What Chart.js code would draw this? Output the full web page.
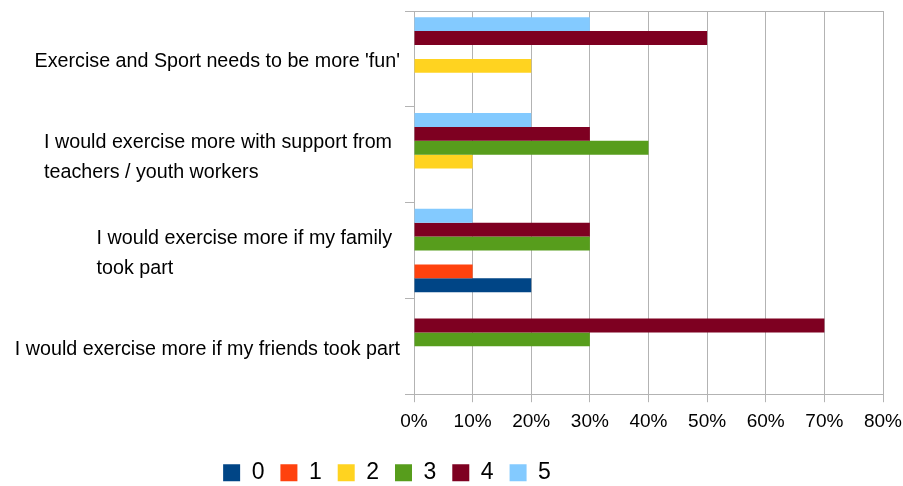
<!DOCTYPE html>
<html>
<head>
<meta charset="utf-8">
<script src="https://cdn.jsdelivr.net/npm/chart.js@4.4.0/dist/chart.umd.min.js"></script>
<style>
  html, body { margin: 0; padding: 0; background: #fff; }
  #wrap { width: 903px; height: 486px; }
</style>
</head>
<body>
<div id="wrap"><canvas id="myBars"></canvas></div>
<script>
// Survey statements, top to bottom (each entry is one label, split into its lines)
var categories = [
    ["Exercise and Sport needs to be more 'fun'"],
    ['I would exercise more with support from', 'teachers / youth workers'],
    ['I would exercise more if my family', 'took part'],
    ['I would exercise more if my friends took part']
];

// Rating given (0 - 5), percentage of answers per statement
var seriesNames = ['0', '1', '2', '3', '4', '5'];
var series0 = [0, 0, 20, 0];
var series1 = [0, 0, 10, 0];
var series2 = [20, 10, 0, 0];
var series3 = [0, 40, 30, 30];
var series4 = [50, 30, 30, 70];
var series5 = [30, 20, 10, 0];
var seriesColors = ['#004586', '#ff420e', '#ffd320', '#579d1c', '#7e0021', '#83caff'];

var xTicks = [0, 10, 20, 30, 40, 50, 60, 70, 80];

var allSeries = [series0, series1, series2, series3, series4, series5];

// Rating 5 sits at the top of each group, so datasets go in reverse order
var datasets = [];
for (var i = allSeries.length - 1; i >= 0; i--) {
    datasets.push({
        label: seriesNames[i],
        data: allSeries[i],
        backgroundColor: seriesColors[i],
        borderWidth: 0,
        categoryPercentage: 0.87,
        barPercentage: 1.0
    });
}

var gridGrey = '#b3b3b3';
var fontFamily = '"Liberation Sans", Arial, sans-serif';
var labelFont = '19.7px ' + fontFamily;

// Category labels: lines left-aligned, block placed against the axis
// (wrapped labels keep a little extra room on the right)
var categoryLabels = {
    id: 'categoryLabels',
    afterDraw: function (chart) {
        var ctx = chart.ctx;
        var yScale = chart.scales.y;
        var lineHeight = 30;
        ctx.save();
        ctx.font = labelFont;
        ctx.fillStyle = '#000';
        ctx.textAlign = 'left';
        ctx.textBaseline = 'middle';
        categories.forEach(function (lines, idx) {
            var right = chart.chartArea.left - (lines.length > 1 ? 22 : 14);
            var widest = 0;
            lines.forEach(function (l) { widest = Math.max(widest, ctx.measureText(l).width); });
            var cy = yScale.getPixelForValue(idx);
            var top = cy - (lines.length - 1) * lineHeight / 2;
            lines.forEach(function (l, k) {
                ctx.fillText(l, right - widest, top + k * lineHeight + 3);
            });
        });
        ctx.restore();
    }
};

// The legend row sits left of centre, a little lower than the default spot
var legendPlacement = {
    id: 'legendPlacement',
    afterLayout: function (chart) {
        var lg = chart.legend;
        var w = 774;
        lg.left = 0;
        lg.right = w;
        lg.width = w;
        var pad = lg.options.labels.padding;
        var itemH = lg.options.labels.font.size * 1.2;
        var h = lg.height;
        lg.top = 475 - pad - itemH / 2;
        lg.bottom = lg.top + h;
    }
};

var ctx = document.getElementById('myBars').getContext('2d');
var chart = new Chart(ctx, {
    type: 'bar',
    data: {
        labels: categories.map(function (c) { return c.join(' '); }),
        datasets: datasets
    },
    options: {
        indexAxis: 'y',
        responsive: true,
        maintainAspectRatio: false,
        animation: false,
        layout: {
            padding: { top: 11, right: 0, left: 0, bottom: 0 }
        },
        scales: {
            x: {
                min: 0,
                max: 80,
                afterBuildTicks: function (axis) {
                    axis.ticks = xTicks.map(function (v) { return { value: v }; });
                },
                afterFit: function (axis) {
                    axis.paddingRight = 20;
                    axis.height = axis.height - 4;
                },
                grid: {
                    color: gridGrey,
                    tickLength: 8
                },
                border: { color: gridGrey },
                ticks: {
                    padding: 8,
                    color: '#000',
                    font: { family: fontFamily, size: 19 },
                    callback: function (v) { return v + '%'; }
                }
            },
            y: {
                afterFit: function (axis) { axis.width = 414; },
                grid: {
                    offset: true,
                    tickLength: 9,
                    tickColor: gridGrey,
                    color: function (c) { return c.index === 0 ? gridGrey : 'rgba(0,0,0,0)'; }
                },
                border: { color: gridGrey },
                ticks: { display: false }
            }
        },
        plugins: {
            legend: {
                display: true,
                position: 'bottom',
                reverse: true,
                labels: {
                    boxWidth: 17,
                    boxHeight: 17,
                    padding: 16,
                    color: '#000',
                    font: { family: fontFamily, size: 23 }
                }
            },
            tooltip: { enabled: false }
        }
    },
    plugins: [categoryLabels, legendPlacement]
});
</script>
</body>
</html>
